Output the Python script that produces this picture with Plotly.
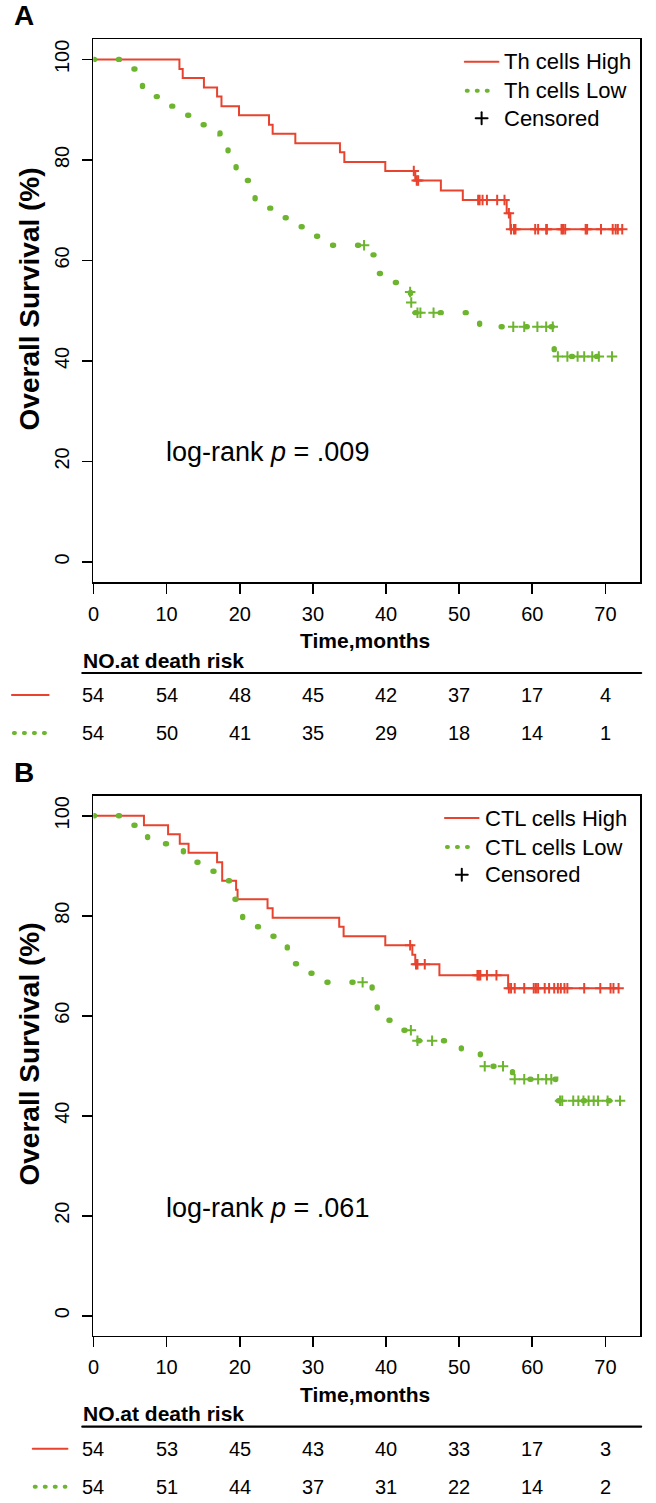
import plotly.graph_objects as go

W, H = 656, 1503

# ---------------- data ----------------
month_ticks = [0, 10, 20, 30, 40, 50, 60, 70]
pct_ticks = [0, 20, 40, 60, 80, 100]

# Panel A : Th cells
th_high_t = [0, 11.75, 12.2, 15.1, 16.9, 17.5, 19.9, 24.0, 24.5, 27.6, 33.7, 34.3,
             39.9, 44.0, 47.5, 50.5, 56.5, 57.0]
th_high_s = [100, 98.1, 96.3, 94.4, 92.6, 90.7, 88.9, 87.0, 85.2, 83.3, 81.5, 79.6,
             77.8, 75.9, 73.9, 72.0, 69.4, 66.2]
th_high_cens = [43.8, 44.2, 44.4, 52.6, 52.8, 53.2, 53.8, 55.2, 56.2, 56.8, 57.1, 57.5,
                57.7, 60.4, 60.8, 61.9, 62.0, 64.0, 64.2, 64.5, 67.3, 67.5, 69.4,
                71.0, 71.4, 71.7, 72.3]

th_low_t = [0, 4.8, 5.8, 6.7, 8.0, 10.1, 12.0, 14.2, 17.3, 17.8, 18.4, 19.0, 19.5,
            19.9, 21.3, 22.1, 23.8, 25.5, 27.5, 29.6, 31.8, 37.9, 38.4, 38.9, 40.2,
            42.0, 43.35, 43.9, 52.8, 63.0]
th_low_s = [100, 98.1, 96.3, 94.4, 92.6, 90.7, 88.9, 87.0, 85.2, 83.3, 81.5, 79.6,
            77.8, 75.9, 74.1, 72.2, 70.4, 68.5, 66.7, 64.8, 63.0, 61.1, 59.3, 57.4,
            55.6, 53.7, 51.6, 49.6, 46.8, 40.9]
th_low_cens = [37.0, 43.3, 43.45, 44.3, 44.7, 46.5, 57.4, 58.9, 60.7, 61.9, 62.8,
               63.5, 64.8, 66.2, 67.1, 68.2, 69.1, 70.9]

# Panel B : CTL cells
ctl_high_t = [0, 6.9, 10.2, 11.8, 13.0, 16.9, 17.6, 19.5, 19.7, 23.8, 24.5, 33.6,
              34.2, 39.9, 43.6, 44.0, 47.3, 56.7]
ctl_high_s = [100, 98.1, 96.3, 94.4, 92.6, 90.7, 87.0, 85.2, 83.3, 81.5, 79.6, 77.8,
              75.9, 74.1, 72.2, 70.3, 68.1, 65.5]
ctl_high_cens = [43.3, 44.1, 44.3, 45.3, 52.5, 52.7, 52.9, 53.8, 55.1, 56.8, 57.1,
                 57.6, 58.9, 60.2, 60.5, 60.8, 61.7, 62.3, 63.0, 63.5, 63.9, 64.4,
                 64.8, 67.1, 69.3, 70.7, 71.1, 71.8]

ctl_low_t = [0, 5.0, 6.8, 7.4, 12.3, 14.0, 16.2, 18.2, 18.8, 19.3, 19.7, 20.4, 22.2,
             24.0, 25.6, 26.5, 27.6, 29.4, 31.6, 38.1, 38.8, 40.1, 41.5, 43.8, 50.3,
             52.9, 57.3, 63.2]
ctl_low_s = [100, 98.1, 96.3, 94.4, 92.6, 90.7, 88.9, 87.0, 85.2, 83.3, 81.5, 79.6,
             77.8, 75.9, 74.1, 72.2, 70.4, 68.5, 66.7, 64.8, 61.0, 59.1, 57.1, 55.0,
             52.5, 49.9, 47.3, 43.0]
ctl_low_cens = [36.8, 43.4, 44.3, 46.3, 53.5, 56.0, 57.6, 58.9, 60.8, 61.9, 62.6,
                63.8, 64.1, 65.6, 66.3, 67.0, 67.7, 68.4, 69.0, 70.3, 72.0]

risk_th_high = [54, 54, 48, 45, 42, 37, 17, 4]
risk_th_low = [54, 50, 41, 35, 29, 18, 14, 1]
risk_ctl_high = [54, 53, 45, 43, 40, 33, 17, 3]
risk_ctl_low = [54, 51, 44, 37, 31, 22, 14, 2]

# ---------------- styling ----------------
RED = "#E8432E"
GREEN = "#6DB52F"
FONT = "Liberation Sans, Arial, sans-serif"
DOT_DASH = "1px,24px"
SMALL_DOT_DASH = "1px,9px"


def fx(p):
    return p / W


def fy(p):
    return 1 - p / H


def level_at(ts, ss, t):
    v = ss[0]
    for ti, si in zip(ts, ss):
        if ti <= t:
            v = si
    return v


def txt(text, x, y, size, xanchor="center", xref="paper", angle=0):
    return dict(text=text, x=x, y=y, xref=xref, yref="paper", showarrow=False,
                xanchor=xanchor, yanchor="middle", textangle=angle,
                font=dict(family=FONT, size=size, color="black"))


panels = [
    dict(name="A", box_top=39.3, box_bot=582.0, xr=74.75,
         hi=(th_high_t, th_high_s, th_high_cens), lo=(th_low_t, th_low_s, th_low_cens),
         risk=(risk_th_high, risk_th_low), labels=("Th cells High", "Th cells Low"),
         p="log-rank <i>p</i> = .009", leg_text_x=501, leg_line=(463, 497),
         mark_x=(6, 43)),
    dict(name="B", box_top=795.7, box_bot=1335.7, xr=74.75,
         hi=(ctl_high_t, ctl_high_s, ctl_high_cens), lo=(ctl_low_t, ctl_low_s, ctl_low_cens),
         risk=(risk_ctl_high, risk_ctl_low), labels=("CTL cells High", "CTL cells Low"),
         p="log-rank <i>p</i> = .061", leg_text_x=481, leg_line=(443, 477),
         mark_x=(27, 62)),
]

fig = go.Figure()
annotations = []
shapes = []
layout_axes = {}

for i, P in enumerate(panels):
    k = "" if i == 0 else str(i + 1)
    xa, ya = "x" + k, "y" + k
    top, bot = P["box_top"], P["box_bot"]

    for (ts, ss, cens), col, dash, wid in [(P["hi"], RED, "solid", 2),
                                          (P["lo"], GREEN, DOT_DASH, 5.4)]:
        end_t = max(cens[-1], ts[-1])
        fig.add_trace(go.Scatter(
            x=list(ts) + [end_t], y=list(ss) + [ss[-1]], mode="lines",
            line=dict(color=col, width=wid, dash=dash, shape="hv"),
            xaxis=xa, yaxis=ya, showlegend=False, hoverinfo="skip"))
        fig.add_trace(go.Scatter(
            x=cens, y=[level_at(ts, ss, c) for c in cens], mode="markers",
            marker=dict(symbol="cross-thin", size=7.5, color=col,
                        line=dict(color=col, width=2)),
            xaxis=xa, yaxis=ya, showlegend=False, hoverinfo="skip"))

    axis_common = dict(showline=True, linecolor="black", linewidth=1.7, mirror=True,
                       ticks="outside", ticklen=10, tickwidth=1.7, tickcolor="black",
                       showgrid=False, zeroline=False,
                       tickfont=dict(family=FONT, size=20, color="black"))
    layout_axes["xaxis" + k] = dict(axis_common, domain=[fx(88.3), fx(640)],
                                    range=[0, P["xr"]], tickvals=month_ticks,
                                    anchor=ya, ticklabelstandoff=3)
    layout_axes["yaxis" + k] = dict(axis_common, domain=[fy(bot), fy(top)],
                                    range=[-4, 104], tickvals=pct_ticks, tickangle=-90,
                                    anchor=xa, ticklabelstandoff=5)

    off = top - 39.3
    annotations.append(txt("<b>%s</b>" % P["name"], fx(18), fy(16 + off), 28))
    annotations.append(txt("<b>Overall Survival (%)</b>", fx(24),
                           fy((top + bot) / 2 - 12), 28, angle=-90))
    annotations.append(txt(P["p"], fx(159), fy(452 + off), 27, xanchor="left"))

    # legend
    leg_rows = [22.4, 51.4, 79.0]
    lx0, lx1 = P["leg_line"]
    for t_, r in zip(list(P["labels"]) + ["Censored"], leg_rows):
        annotations.append(txt(t_, fx(P["leg_text_x"]), fy(top + r), 22, xanchor="left"))
    shapes.append(dict(type="line", xref="paper", yref="paper", x0=fx(lx0), x1=fx(lx1),
                       y0=fy(top + leg_rows[0]), y1=fy(top + leg_rows[0]),
                       line=dict(color=RED, width=2)))
    shapes.append(dict(type="line", xref="paper", yref="paper", x0=fx(lx0 + 2), x1=fx(lx1 - 3),
                       y0=fy(top + leg_rows[1]), y1=fy(top + leg_rows[1]),
                       line=dict(color=GREEN, width=4, dash=SMALL_DOT_DASH)))
    cx = (lx0 + lx1) / 2
    cy = top + leg_rows[2]
    shapes.append(dict(type="line", xref="paper", yref="paper", x0=fx(cx - 6), x1=fx(cx + 6),
                       y0=fy(cy), y1=fy(cy), line=dict(color="black", width=2)))
    shapes.append(dict(type="line", xref="paper", yref="paper", x0=fx(cx), x1=fx(cx),
                       y0=fy(cy - 6), y1=fy(cy + 6), line=dict(color="black", width=2)))

    # x title and risk table
    annotations.append(txt("<b>Time,months</b>", fx(362), fy(bot + 59), 21))
    annotations.append(txt("<b>NO.at death risk</b>", fx(76), fy(bot + 78), 21,
                           xanchor="left"))
    shapes.append(dict(type="line", xref="paper", yref="paper", x0=fx(77), x1=fx(641),
                       y0=fy(bot + 91), y1=fy(bot + 91), line=dict(color="black", width=2.2)))
    rows_y = [bot + 113, bot + 151]
    for vals, ry in zip(P["risk"], rows_y):
        for m, v in zip(month_ticks, vals):
            annotations.append(txt(str(v), m, fy(ry), 20, xref=xa))
    mx0, mx1 = P["mark_x"]
    shapes.append(dict(type="line", xref="paper", yref="paper", x0=fx(mx0), x1=fx(mx1),
                       y0=fy(rows_y[0]), y1=fy(rows_y[0]), line=dict(color=RED, width=2)))
    shapes.append(dict(type="line", xref="paper", yref="paper", x0=fx(mx0 + 2), x1=fx(mx1 - 2),
                       y0=fy(rows_y[1]), y1=fy(rows_y[1]),
                       line=dict(color=GREEN, width=4, dash=SMALL_DOT_DASH)))

fig.update_layout(width=W, height=H, autosize=False,
                  margin=dict(l=0, r=0, t=0, b=0),
                  paper_bgcolor="white", plot_bgcolor="white",
                  annotations=annotations, shapes=shapes, **layout_axes)

post = """
var st = document.createElement('style');
st.innerHTML = 'html, body { margin: 0 !important; padding: 0 !important; overflow: hidden !important; } '
             + '.js-line, .shapelayer path { stroke-linecap: round !important; }';
document.head.appendChild(st);
"""
fig.write_html("out.html", post_script=post,
               config={"responsive": False, "displayModeBar": False, "staticPlot": True})
